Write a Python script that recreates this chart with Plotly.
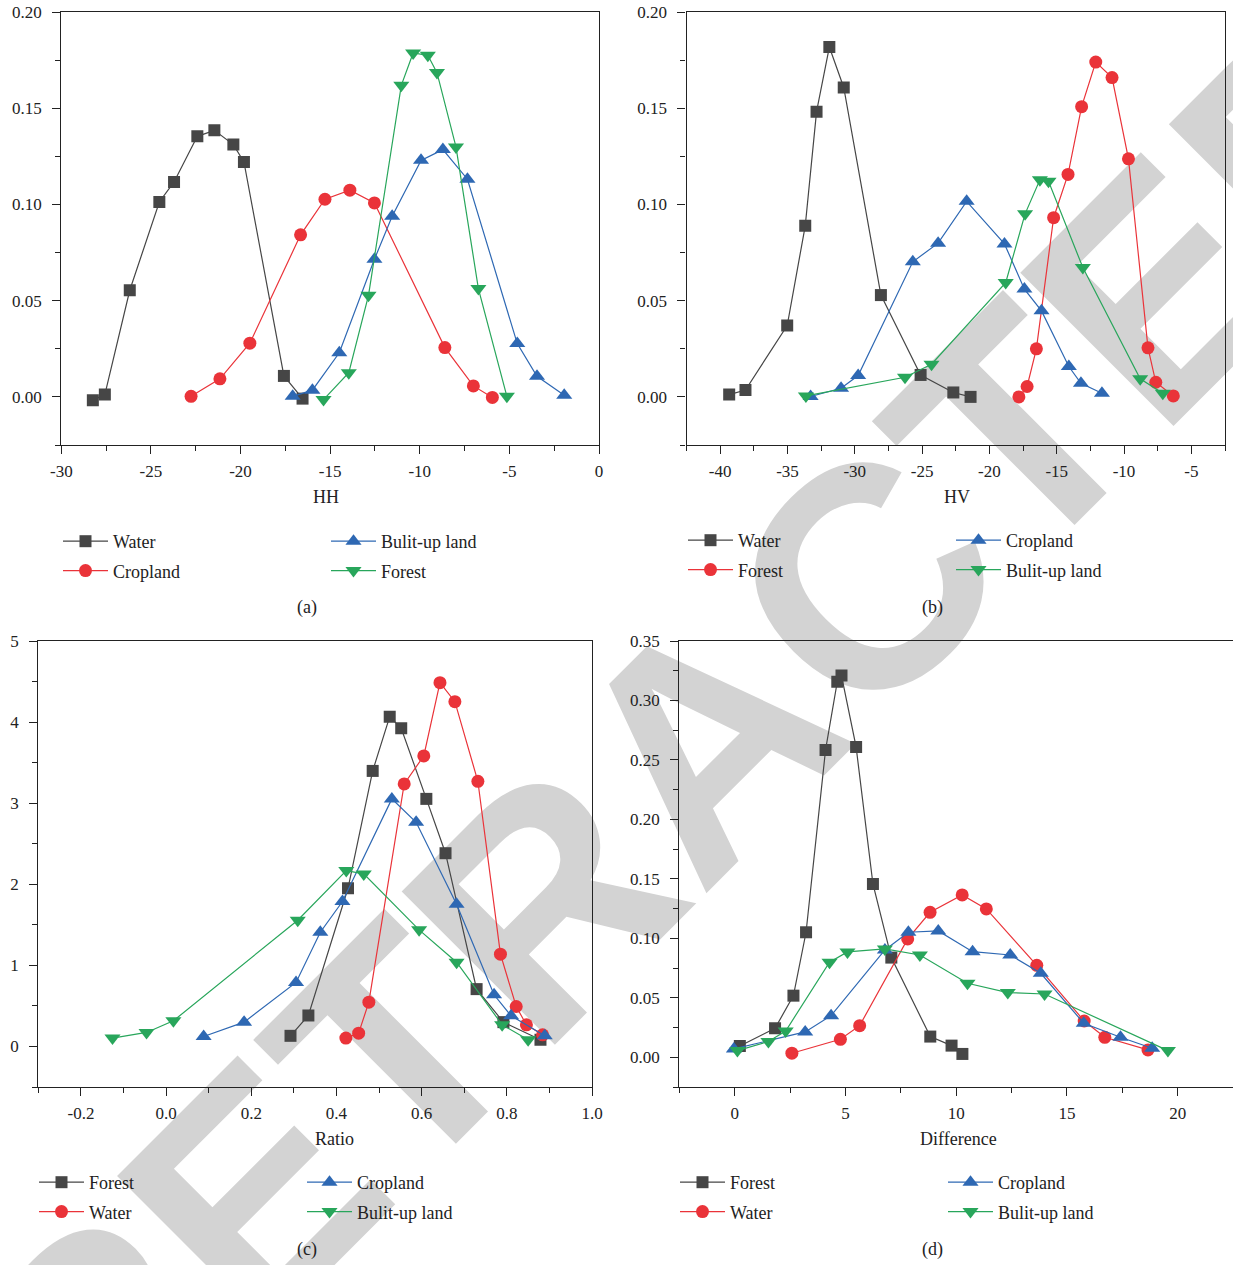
import plotly.graph_objects as go

W, H = 1233, 1265
SERIF = "Liberation Serif"

# ---------------- data ----------------
# (a) HH
a_water_x = [-28.24, -27.57, -26.18, -24.53, -23.71, -22.41, -21.46, -20.40, -19.81, -17.58, -16.54]
a_water_y = [-0.0017, 0.0012, 0.0554, 0.1013, 0.1117, 0.1354, 0.1385, 0.1311, 0.1221, 0.0109, -0.0009]
a_crop_x = [-22.76, -21.15, -19.48, -16.65, -15.29, -13.90, -12.53, -8.60, -7.01, -5.95]
a_crop_y = [0.0003, 0.0094, 0.0279, 0.0842, 0.1027, 0.1074, 0.1008, 0.0256, 0.0057, -0.0003]
a_built_x = [-17.09, -15.99, -14.49, -12.53, -11.54, -9.93, -8.71, -7.34, -4.56, -3.46, -1.94]
a_built_y = [0.0003, 0.0035, 0.0229, 0.0715, 0.0939, 0.1229, 0.1285, 0.1131, 0.0277, 0.0107, 0.0009]
a_forest_x = [-15.37, -13.96, -12.86, -11.03, -10.37, -9.55, -9.04, -7.98, -6.73, -5.14]
a_forest_y = [-0.0014, 0.0126, 0.0528, 0.1619, 0.1787, 0.1775, 0.1685, 0.1299, 0.0563, 0.0003]

# (b) HV
b_water_x = [-39.33, -38.12, -35.02, -33.68, -32.84, -31.89, -30.82, -28.06, -25.11, -22.68, -21.40]
b_water_y = [0.0012, 0.0036, 0.0371, 0.0889, 0.1482, 0.1818, 0.1608, 0.0529, 0.0114, 0.0023, 0.0000]
b_forest_x = [-17.81, -17.20, -16.51, -15.23, -14.16, -13.15, -12.10, -10.89, -9.67, -8.22, -7.64, -6.34]
b_forest_y = [0.0000, 0.0054, 0.0250, 0.0931, 0.1156, 0.1508, 0.1740, 0.1659, 0.1237, 0.0255, 0.0076, 0.0005]
b_crop_x = [-33.28, -31.02, -29.75, -25.69, -23.81, -21.69, -18.88, -17.40, -16.13, -14.10, -13.20, -11.64]
b_crop_y = [0.0002, 0.0045, 0.0111, 0.0702, 0.0799, 0.1016, 0.0795, 0.0560, 0.0447, 0.0158, 0.0071, 0.0019]
b_built_x = [-33.63, -26.27, -24.30, -18.79, -17.35, -16.25, -15.61, -13.06, -8.80, -7.12]
b_built_y = [0.0005, 0.0102, 0.0170, 0.0594, 0.0951, 0.1128, 0.1120, 0.0672, 0.0094, 0.0019]

# (c) Ratio
c_forest_x = [0.292, 0.334, 0.427, 0.485, 0.525, 0.552, 0.611, 0.656, 0.729, 0.792, 0.879]
c_forest_y = [0.131, 0.382, 1.951, 3.398, 4.067, 3.924, 3.053, 2.383, 0.707, 0.300, 0.082]
c_water_x = [0.422, 0.452, 0.476, 0.559, 0.605, 0.643, 0.678, 0.732, 0.785, 0.822, 0.846, 0.884]
c_water_y = [0.103, 0.164, 0.546, 3.237, 3.583, 4.486, 4.252, 3.270, 1.138, 0.493, 0.267, 0.144]
c_crop_x = [0.088, 0.183, 0.305, 0.362, 0.414, 0.530, 0.587, 0.682, 0.770, 0.810, 0.889]
c_crop_y = [0.123, 0.300, 0.789, 1.409, 1.787, 3.053, 2.765, 1.754, 0.637, 0.378, 0.131]
c_built_x = [-0.126, -0.046, 0.017, 0.309, 0.423, 0.464, 0.594, 0.682, 0.789, 0.850]
c_built_y = [0.103, 0.173, 0.316, 1.557, 2.169, 2.128, 1.438, 1.039, 0.267, 0.082]

# (d) Difference
d_forest_x = [0.23, 1.82, 2.65, 3.22, 4.10, 4.63, 4.82, 5.48, 6.24, 7.07, 8.83, 9.79, 10.28]
d_forest_y = [0.0095, 0.0244, 0.0518, 0.1051, 0.2584, 0.3158, 0.3209, 0.2609, 0.1457, 0.0838, 0.0174, 0.0098, 0.0028]
d_water_x = [2.58, 4.77, 5.64, 7.81, 8.82, 10.27, 11.36, 13.64, 15.78, 16.71, 18.66]
d_water_y = [0.0034, 0.0151, 0.0266, 0.0995, 0.1219, 0.1365, 0.1247, 0.0773, 0.0305, 0.0168, 0.0062]
d_crop_x = [-0.04, 3.18, 4.35, 6.78, 7.84, 9.19, 10.74, 12.44, 13.82, 15.76, 17.42, 18.85]
d_crop_y = [0.0070, 0.0213, 0.0350, 0.0902, 0.1051, 0.1062, 0.0888, 0.0860, 0.0706, 0.0286, 0.0168, 0.0076]
d_built_x = [0.12, 1.52, 2.30, 4.28, 5.09, 6.78, 8.36, 10.51, 12.33, 13.99, 19.56]
d_built_y = [0.0056, 0.0132, 0.0221, 0.0799, 0.0886, 0.0911, 0.0860, 0.0622, 0.0544, 0.0532, 0.0056]

# tick values / labels
a_xticks = [-30, -25, -20, -15, -10, -5, 0]
a_xlabels = ["-30", "-25", "-20", "-15", "-10", "-5", "0"]
b_xticks = [-40, -35, -30, -25, -20, -15, -10, -5]
b_xlabels = ["-40", "-35", "-30", "-25", "-20", "-15", "-10", "-5"]
ab_yticks = [0.0, 0.05, 0.10, 0.15, 0.20]
ab_ylabels = ["0.00", "0.05", "0.10", "0.15", "0.20"]
c_xticks = [-0.2, 0.0, 0.2, 0.4, 0.6, 0.8, 1.0]
c_xlabels = ["-0.2", "0.0", "0.2", "0.4", "0.6", "0.8", "1.0"]
c_yticks = [0, 1, 2, 3, 4, 5]
c_ylabels = ["0", "1", "2", "3", "4", "5"]
d_xticks = [0, 5, 10, 15, 20]
d_xlabels = ["0", "5", "10", "15", "20"]
d_yticks = [0.0, 0.05, 0.10, 0.15, 0.20, 0.25, 0.30, 0.35]
d_ylabels = ["0.00", "0.05", "0.10", "0.15", "0.20", "0.25", "0.30", "0.35"]

# ---------------- styles ----------------
BLACK = "#464646"
RED = "#ea3339"
BLUE = "#2e68b3"
GREEN = "#28a65b"
STY = {
    "sq": dict(color=BLACK, symbol="square", size=12),
    "ci": dict(color=RED, symbol="circle", size=13),
    "tu": dict(color=BLUE, symbol="triangle-up", size=14),
    "td": dict(color=GREEN, symbol="triangle-down", size=14),
}

fig = go.Figure()


def add(x, y, name, sty, ax, legend, group):
    s = STY[sty]
    fig.add_trace(go.Scatter(
        x=x, y=y, name=name, mode="lines+markers",
        xaxis="x" + ax, yaxis="y" + ax,
        line=dict(color=s["color"], width=1.2),
        marker=dict(color=s["color"], symbol=s["symbol"], size=s["size"], line=dict(width=0)),
        legend=legend, legendgroup=group, showlegend=True,
    ))


# panel (a)
add(a_water_x, a_water_y, "Water", "sq", "", "legend", "a1")
add(a_crop_x, a_crop_y, "Cropland", "ci", "", "legend", "a2")
add(a_built_x, a_built_y, "Bulit-up land", "tu", "", "legend2", "a3")
add(a_forest_x, a_forest_y, "Forest", "td", "", "legend2", "a4")
# panel (b)
add(b_water_x, b_water_y, "Water", "sq", "2", "legend3", "b1")
add(b_forest_x, b_forest_y, "Forest", "ci", "2", "legend3", "b2")
add(b_crop_x, b_crop_y, "Cropland", "tu", "2", "legend4", "b3")
add(b_built_x, b_built_y, "Bulit-up land", "td", "2", "legend4", "b4")
# panel (c)
add(c_forest_x, c_forest_y, "Forest", "sq", "3", "legend5", "c1")
add(c_water_x, c_water_y, "Water", "ci", "3", "legend5", "c2")
add(c_crop_x, c_crop_y, "Cropland", "tu", "3", "legend6", "c3")
add(c_built_x, c_built_y, "Bulit-up land", "td", "3", "legend6", "c4")
# panel (d)
add(d_forest_x, d_forest_y, "Forest", "sq", "4", "legend7", "d1")
add(d_water_x, d_water_y, "Water", "ci", "4", "legend7", "d2")
add(d_crop_x, d_crop_y, "Cropland", "tu", "4", "legend8", "d3")
add(d_built_x, d_built_y, "Bulit-up land", "td", "4", "legend8", "d4")

# ---------------- axes ----------------
TICKFONT = dict(family=SERIF, size=17, color="#222")


def xax(domain, rng, tv, tt, minor_dtick, anchor):
    return dict(domain=domain, range=rng, anchor=anchor, tickmode="array", tickvals=tv, ticktext=tt,
                ticks="outside", ticklen=8, tickwidth=1.2, tickcolor="#222", automargin=False,
                showline=True, linecolor="#222", linewidth=1.3, mirror=True,
                showgrid=False, zeroline=False, tickfont=TICKFONT, ticklabelstandoff=2,
                minor=dict(tickmode="linear", tick0=rng[0], dtick=minor_dtick, ticks="outside",
                           ticklen=5, tickwidth=1.2, tickcolor="#222", showgrid=False))


def yax(domain, rng, tv, tt, minor_dtick, anchor):
    return dict(domain=domain, range=rng, anchor=anchor, tickmode="array", tickvals=tv, ticktext=tt,
                ticks="outside", ticklen=8, tickwidth=1.2, tickcolor="#222", automargin=False,
                showline=True, linecolor="#222", linewidth=1.3, mirror=True,
                showgrid=False, zeroline=False, tickfont=TICKFONT, ticklabelstandoff=7,
                minor=dict(tickmode="linear", tick0=0, dtick=minor_dtick, ticks="outside",
                           ticklen=5, tickwidth=1.2, tickcolor="#222", showgrid=False))


def px_x(p):
    return p / W


def px_y(p):
    return 1 - p / H


top_y = [px_y(445), px_y(12)]
bot_y = [px_y(1087), px_y(641)]

layout_axes = dict(
    xaxis=xax([px_x(61.3), px_x(599)], [-30, 0], a_xticks, a_xlabels, 2.5, "y"),
    yaxis=yax(top_y, [-0.025, 0.20], ab_yticks, ab_ylabels, 0.025, "x"),
    xaxis2=xax([px_x(686.5), px_x(1225)], [-42.5, -2.5], b_xticks, b_xlabels, 2.5, "y2"),
    yaxis2=yax(top_y, [-0.025, 0.20], ab_yticks, ab_ylabels, 0.025, "x2"),
    xaxis3=xax([px_x(38.4), px_x(592)], [-0.3, 1.0], c_xticks, c_xlabels, 0.1, "y3"),
    yaxis3=yax(bot_y, [-0.5, 5.0], c_yticks, c_ylabels, 0.5, "x3"),
    xaxis4=xax([px_x(679.4), 1.0], [-2.5, 22.5], d_xticks, d_xlabels, 2.5, "y4"),
    yaxis4=yax(bot_y, [-0.025, 0.35], d_yticks, d_ylabels, 0.025, "x4"),
)

# ---------------- legends ----------------
LEGFONT = dict(family=SERIF, size=18, color="#222")


def leg(xp, yp):
    return dict(x=px_x(xp), y=px_y(yp), xanchor="left", yanchor="top", orientation="v",
                bgcolor="rgba(0,0,0,0)", font=LEGFONT, itemwidth=45, tracegroupgap=3,
                itemclick=False, itemdoubleclick=False)


legends = dict(
    legend=leg(58, 523), legend2=leg(326, 523),
    legend3=leg(683, 522), legend4=leg(951, 522),
    legend5=leg(34, 1164), legend6=leg(302, 1164),
    legend7=leg(675, 1164), legend8=leg(943, 1164),
)

# ---------------- annotations ----------------
TXT = dict(family=SERIF, size=18, color="#222")
ann_items = [("HH", 326, 497), ("HV", 957, 497), ("Ratio", 334, 1139), ("Difference", 958, 1139),
             ("(a)", 307, 607), ("(b)", 932, 607), ("(c)", 307, 1249), ("(d)", 932, 1249)]
annotations = [dict(text=t, x=px_x(xp), y=px_y(yp), xref="paper", yref="paper", showarrow=False,
                    xanchor="center", yanchor="middle", font=TXT) for t, xp, yp in ann_items]

# watermark (drawn below the data)
wm_cx, wm_cy = px_x(683), px_y(720)
shapes = [dict(type="rect", xref="paper", yref="paper", x0=wm_cx - 0.001, x1=wm_cx + 0.001,
               y0=wm_cy - 0.001, y1=wm_cy + 0.001, line=dict(width=0), fillcolor="rgba(0,0,0,0)",
               layer="below",
               label=dict(text="RETRACTED", textangle=-45, textposition="middle center",
                          font=dict(family="Liberation Sans", size=315, color="#d3d3d3", weight="bold")))]

fig.update_layout(
    template="none",
    width=W, height=H, margin=dict(l=0, r=0, t=0, b=0, autoexpand=False),
    paper_bgcolor="white", plot_bgcolor="rgba(0,0,0,0)",
    annotations=annotations, shapes=shapes,
    **layout_axes, **legends,
)

fig.write_html("out.html", config={"displayModeBar": False},
               post_script="document.body.style.margin='0px';")
